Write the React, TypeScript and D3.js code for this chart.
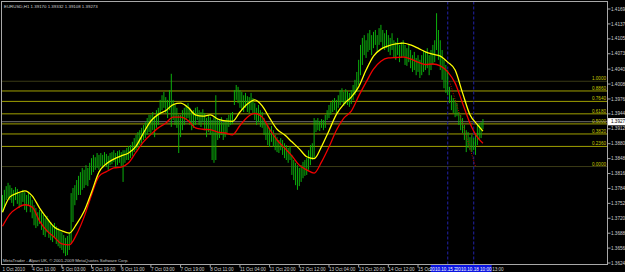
import React from "react";
import * as d3 from "d3";

// ---- Data (EURUSD H1) ----
const barHigh = [
  1.3770,1.3781,1.3789,1.3796,1.3791,1.3785,1.3781,1.3787,1.3783,1.3776,
  1.3774,1.3781,1.3776,1.3770,1.3774,1.3768,1.3759,1.3748,1.3742,1.3733,
  1.3738,1.3733,1.3727,1.3720,1.3725,1.3716,1.3712,1.3705,1.3710,1.3703,
  1.3699,1.3695,1.3690,1.3684,1.3678,1.3682,1.3690,1.3774,1.3785,1.3791,
  1.3802,1.3811,1.3819,1.3828,1.3824,1.3834,1.3828,1.3839,1.3849,1.3856,
  1.3851,1.3860,1.3856,1.3860,1.3856,1.3862,1.3858,1.3854,1.3860,1.3862,
  1.3866,1.3860,1.3864,1.3866,1.3862,1.3866,1.3866,1.3871,1.3875,1.3877,
  1.3884,1.3892,1.3899,1.3905,1.3909,1.3914,1.3920,1.3926,1.3935,1.3942,
  1.3942,1.3948,1.3939,1.3952,1.3957,1.3974,1.3984,1.3991,1.3980,1.3974,
  1.3995,1.4030,1.3974,1.3963,1.3957,1.3942,1.3942,1.3952,1.3957,1.3963,
  1.3967,1.3957,1.3948,1.3952,1.3957,1.3959,1.3952,1.3948,1.3954,1.3946,
  1.3935,1.3942,1.3937,1.3931,1.3937,1.3984,1.3935,1.3931,1.3937,1.3926,
  1.3931,1.3935,1.3942,1.3946,1.3948,1.3995,1.4006,1.4002,1.3995,1.3991,
  1.3984,1.3989,1.3982,1.3980,1.3989,1.3978,1.3967,1.3957,1.3963,1.3952,
  1.3948,1.3935,1.3924,1.3920,1.3914,1.3918,1.3909,1.3899,1.3894,1.3888,
  1.3892,1.3888,1.3881,1.3877,1.3871,1.3875,1.3856,1.3845,1.3839,1.3834,
  1.3828,1.3834,1.3841,1.3845,1.3849,1.3866,1.3877,1.3881,1.3935,1.3931,
  1.3935,1.3929,1.3933,1.3931,1.3942,1.3952,1.3963,1.3969,1.3974,1.3978,
  1.3974,1.3984,1.3995,1.3999,1.3991,1.3997,1.3993,1.3989,1.3995,1.4006,
  1.4017,1.4034,1.4060,1.4092,1.4107,1.4113,1.4102,1.4117,1.4124,1.4113,
  1.4120,1.4124,1.4113,1.4128,1.4135,1.4124,1.4117,1.4124,1.4113,1.4107,
  1.4117,1.4102,1.4098,1.4107,1.4092,1.4098,1.4102,1.4092,1.4085,1.4092,
  1.4081,1.4070,1.4077,1.4064,1.4070,1.4060,1.4070,1.4081,1.4077,1.4085,
  1.4070,1.4081,1.4092,1.4102,1.4160,1.4124,1.4102,1.4081,1.4060,1.4049,
  1.4038,1.4002,1.3984,1.3978,1.3974,1.3967,1.3948,1.3942,1.3935,1.3920,
  1.3909,1.3905,1.3894,1.3899,1.3892,1.3899,1.3920,1.3924,1.3926,1.3933,
];
const barLow = [
  1.3733,1.3742,1.3759,1.3763,1.3759,1.3753,1.3746,1.3759,1.3751,1.3742,
  1.3746,1.3755,1.3738,1.3733,1.3748,1.3733,1.3720,1.3705,1.3699,1.3703,
  1.3708,1.3695,1.3684,1.3680,1.3690,1.3678,1.3673,1.3669,1.3678,1.3665,
  1.3660,1.3656,1.3652,1.3645,1.3639,1.3641,1.3652,1.3667,1.3712,1.3748,
  1.3759,1.3770,1.3770,1.3781,1.3785,1.3791,1.3789,1.3802,1.3813,1.3819,
  1.3824,1.3828,1.3824,1.3832,1.3828,1.3836,1.3830,1.3824,1.3834,1.3836,
  1.3841,1.3830,1.3834,1.3839,1.3832,1.3798,1.3839,1.3845,1.3845,1.3849,
  1.3854,1.3862,1.3866,1.3871,1.3877,1.3881,1.3888,1.3892,1.3899,1.3905,
  1.3899,1.3909,1.3894,1.3914,1.3920,1.3942,1.3952,1.3957,1.3946,1.3935,
  1.3952,1.3916,1.3931,1.3920,1.3914,1.3860,1.3894,1.3909,1.3920,1.3931,
  1.3935,1.3920,1.3909,1.3914,1.3920,1.3931,1.3920,1.3916,1.3926,1.3909,
  1.3894,1.3905,1.3899,1.3845,1.3839,1.3845,1.3888,1.3892,1.3899,1.3888,
  1.3894,1.3903,1.3916,1.3920,1.3922,1.3963,1.3974,1.3967,1.3957,1.3952,
  1.3948,1.3957,1.3948,1.3946,1.3952,1.3944,1.3931,1.3920,1.3926,1.3916,
  1.3914,1.3899,1.3888,1.3877,1.3873,1.3884,1.3873,1.3866,1.3862,1.3860,
  1.3866,1.3856,1.3849,1.3845,1.3839,1.3845,1.3813,1.3802,1.3791,1.3781,
  1.3789,1.3798,1.3806,1.3811,1.3813,1.3824,1.3834,1.3845,1.3849,1.3905,
  1.3909,1.3907,1.3914,1.3909,1.3914,1.3931,1.3935,1.3942,1.3948,1.3952,
  1.3946,1.3957,1.3963,1.3969,1.3961,1.3965,1.3963,1.3959,1.3965,1.3974,
  1.3984,1.3991,1.4006,1.4027,1.4049,1.4070,1.4064,1.4077,1.4081,1.4070,
  1.4085,1.4092,1.4077,1.4092,1.4098,1.4085,1.4081,1.4085,1.4077,1.4070,
  1.4081,1.4064,1.4060,1.4070,1.4055,1.4064,1.4068,1.4049,1.4047,1.4055,
  1.4042,1.4034,1.4038,1.4027,1.4034,1.4021,1.4027,1.4034,1.4038,1.4042,
  1.4027,1.4038,1.4049,1.4055,1.4081,1.4060,1.4038,1.4017,1.3999,1.3989,
  1.3984,1.3967,1.3952,1.3946,1.3937,1.3939,1.3920,1.3909,1.3903,1.3888,
  1.3862,1.3871,1.3866,1.3862,1.3866,1.3856,1.3877,1.3888,1.3892,1.3911,
];

// moving averages sampled at these bar indices
const maIndex = [
  0,4,8,12,16,20,24,28,32,36,40,44,48,52,56,60,64,68,72,76,80,84,88,92,96,
  100,104,108,112,116,120,124,128,132,136,140,144,148,152,156,160,164,168,172,
  176,180,184,188,192,196,200,204,208,212,216,220,224,228,232,236,240,244,248,
  252,256,259,
];
const maYellow = [
  1.3733,1.3766,1.3774,1.3779,1.3768,1.3742,1.3720,1.3701,1.3693,1.3688,
  1.3708,1.3735,1.3776,1.3819,1.3837,1.3847,1.3854,1.3860,1.3875,1.3903,
  1.3929,1.3943,1.3951,1.3964,1.3967,1.3958,1.3942,1.3939,1.3942,1.3933,
  1.3929,1.3928,1.3948,1.3965,1.3974,1.3961,1.3935,1.3911,1.3899,1.3884,
  1.3869,1.3852,1.3848,1.3874,1.3908,1.3943,1.3965,1.3980,1.4002,1.4038,
  1.4068,1.4083,1.4090,1.4094,1.4096,1.4092,1.4085,1.4077,1.4072,1.4068,
  1.4055,1.4038,1.3989,1.3942,1.3921,1.3907,
];
const maRed = [
  1.3703,1.3729,1.3742,1.3749,1.3744,1.3714,1.3693,1.3679,1.3665,1.3663,
  1.3686,1.3723,1.3770,1.3810,1.3820,1.3828,1.3830,1.3839,1.3862,1.3884,
  1.3900,1.3914,1.3924,1.3937,1.3937,1.3930,1.3914,1.3911,1.3910,1.3905,
  1.3903,1.3899,1.3919,1.3937,1.3945,1.3937,1.3911,1.3888,1.3871,1.3854,
  1.3834,1.3824,1.3817,1.3841,1.3873,1.3909,1.3935,1.3950,1.3982,1.4012,
  1.4040,1.4057,1.4064,1.4065,1.4066,1.4062,1.4055,1.4050,1.4051,1.4047,
  1.4034,1.4010,1.3967,1.3924,1.3894,1.3881,
];

const priceTicks = [
  1.4169,1.4137,1.4105,1.4073,1.4040,1.4008,1.3976,1.3944,1.3912,1.3880,
  1.3848,1.3816,1.3784,1.3752,1.3720,1.3688,1.3656,1.3624,
];
const priceTickLabels = [
  "1.41690","1.41370","1.41050","1.40730","1.40400","1.40080","1.39760","1.39440","1.39120","1.38800",
  "1.38480","1.38160","1.37840","1.37520","1.37200","1.36880","1.36560","1.36240",
];
const bidPrice = 1.39272;
const bidLabel = "1.39272";

const timeTickIndex = [0,16,32,48,64,80,96,112,128,144,160,176,192,208,224,240,256];
const timeTickLabels = [
  "1 Oct 2010","4 Oct 11:00","5 Oct 03:00","5 Oct 19:00","6 Oct 11:00","7 Oct 03:00",
  "7 Oct 19:00","8 Oct 11:00","11 Oct 04:00","11 Oct 20:00","12 Oct 12:00","13 Oct 04:00",
  "13 Oct 20:00","14 Oct 12:00","15 Oct 04:00","15 Oct 20:00","18 Oct 13:00",
];

const fibLow = 1.3831;
const fibHigh = 1.4014;
const fibRatios = [0, 0.236, 0.382, 0.5, 0.618, 0.764, 0.886, 1];
const fibLabels = ["0.0000","0.2360","0.3820","0.5000","0.6180","0.7640","0.8860","1.0000"];
const fibStartBar = 241;
const fibEndBar = 255;

const vLineBars = [240, 254];
const vLineLabels = ["2010.10.15 20:00", "2010.10.18 10:00"];

const title = "EURUSD,H1  1.39170 1.39332 1.39108 1.39273";
const copyright = "MetaTrader - Alpari UK, \u00a9 2001-2009 MetaQuotes Software Corp.";

export default function App() {
  const W = 625, H = 272;
  const left = 1.5, right = 607.5, top = 1.5, bottom = 264.5;
  const y = d3.scaleLinear().domain([1.36219, 1.41819]).range([264, 3]);
  const x = d3.scaleLinear().domain([0, 259]).range([2.5, 2.5 + 259 * 1.855]);
  const font = "'Liberation Sans', Arial, sans-serif";
  const fs = 4.6;

  const maLine = (vals: number[]) =>
    d3.line<number>()
      .x((_, i) => x(maIndex[i]))
      .y((v) => y(v))
      .curve(d3.curveMonotoneX)(vals) as string;

  const bidY = y(bidPrice);

  return (
    <svg width={W} height={H} style={{ position: "fixed", left: 0, top: 0, background: "#000" }}>
      <rect x={0} y={0} width={W} height={H} fill="#000" />
      <clipPath id="plot">
        <rect x={left} y={top} width={right - left} height={bottom - top} />
      </clipPath>

      <g clipPath="url(#plot)">
        {/* fibonacci levels */}
        {fibRatios.map((r, i) => {
          const yy = y(fibLow + r * (fibHigh - fibLow));
          const dotted = r === 0 || r === 1;
          return (
            <line key={"f" + i} x1={left} x2={right} y1={yy} y2={yy} stroke={dotted ? "#74742c" : "#a0a000"} strokeWidth={1}
              strokeDasharray={dotted ? "1 1" : undefined} />
          );
        })}
        {/* bid line */}
        <line x1={left} x2={right} y1={bidY} y2={bidY} stroke="#707070" strokeWidth={1} />

        {/* vertical dotted lines */}
        {vLineBars.map((b, i) => (
          <line key={"v" + i} x1={x(b)} x2={x(b)} y1={top} y2={bottom} stroke="#1c1c8c" strokeWidth={1.2} strokeDasharray="3 2" />
        ))}

        {/* bars */}
        {barHigh.map((h, i) => (
          <line key={"b" + i} x1={x(i)} x2={x(i)} y1={y(h)} y2={y(barLow[i])} stroke="#0cb00c" strokeWidth={1} />
        ))}

        {/* fib trend line */}
        <line x1={x(fibStartBar)} y1={y(fibHigh)} x2={x(fibEndBar)} y2={y(fibLow)} stroke="#c00000" strokeWidth={1} strokeDasharray="1 1.5" />

        {/* moving averages */}
        <path d={maLine(maRed)} fill="none" stroke="#f00000" strokeWidth={1.3} />
        <path d={maLine(maYellow)} fill="none" stroke="#ffff00" strokeWidth={1.3} />

        {/* fib labels */}
        {fibRatios.map((r, i) => {
          const yy = y(fibLow + r * (fibHigh - fibLow));
          return (
            <text key={"fl" + i} x={606} y={yy - 1} textAnchor="end" fontFamily={font} fontSize={fs} fill="#c8c800">
              {fibLabels[i]}
            </text>
          );
        })}
      </g>

      {/* frame */}
      <rect x={left} y={top} width={right - left} height={bottom - top} fill="none" stroke="#a8a8a8" strokeWidth={1} />

      {/* price axis */}
      {priceTicks.map((p, i) => (
        <g key={"p" + i}>
          <line x1={right} x2={right + 3} y1={y(p)} y2={y(p)} stroke="#a8a8a8" />
          <text x={611} y={y(p)} dy="0.35em" fontFamily={font} fontSize={fs} fill="#d0d0d0">{priceTickLabels[i]}</text>
        </g>
      ))}
      <rect x={608} y={bidY - 3.6} width={17} height={7.2} fill="#ffffff" />
      <text x={611} y={bidY} dy="0.35em" fontFamily={font} fontSize={fs} fill="#000">{bidLabel}</text>

      {/* time axis */}
      {timeTickIndex.map((b, i) => (
        <g key={"t" + i}>
          {i > 0 && <line x1={x(b)} x2={x(b)} y1={bottom} y2={bottom + 3} stroke="#a8a8a8" />}
          <text x={x(b)} y={270.5} fontFamily={font} fontSize={fs} fill="#d0d0d0">{timeTickLabels[i]}</text>
        </g>
      ))}
      {vLineBars.map((b, i) => (
        <g key={"vl" + i}>
          <rect x={x(b) - 17} y={265} width={35} height={7} fill="#0a14e0" />
          <text x={x(b)} y={270.5} textAnchor="middle" fontFamily={font} fontSize={fs} fill="#ffffff">{vLineLabels[i]}</text>
        </g>
      ))}

      {/* texts */}
      <text x={4} y={8} fontFamily={font} fontSize={4.4} fill="#d0d0d0">{title}</text>
      <text x={3} y={261.5} fontFamily={font} fontSize={4.3} fill="#c8c8c8">{copyright}</text>
    </svg>
  );
}
